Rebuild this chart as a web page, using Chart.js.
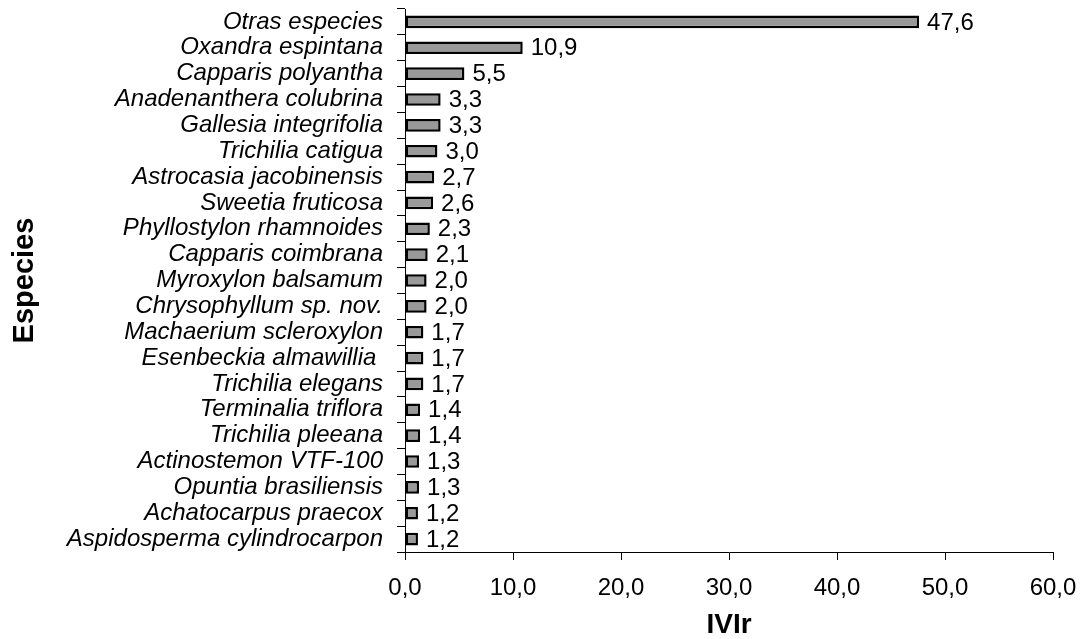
<!DOCTYPE html>
<html>
<head>
<meta charset="utf-8">
<script src="https://cdn.jsdelivr.net/npm/chart.js@4.4.1/dist/chart.umd.min.js"></script>
<style>
  html, body { margin: 0; padding: 0; background: #ffffff; }
  #wrap { width: 1085px; height: 639px; position: relative; }
</style>
</head>
<body>
<div id="wrap"><canvas id="chart"></canvas></div>
<script>
// Species names, ordered from top to bottom
const species = [
  "Otras especies",
  "Oxandra espintana",
  "Capparis polyantha",
  "Anadenanthera colubrina",
  "Gallesia integrifolia",
  "Trichilia catigua",
  "Astrocasia jacobinensis",
  "Sweetia fruticosa",
  "Phyllostylon rhamnoides",
  "Capparis coimbrana",
  "Myroxylon balsamum",
  "Chrysophyllum sp. nov.",
  "Machaerium scleroxylon",
  "Esenbeckia almawillia ",
  "Trichilia elegans",
  "Terminalia triflora",
  "Trichilia pleeana",
  "Actinostemon VTF-100",
  "Opuntia brasiliensis",
  "Achatocarpus praecox",
  "Aspidosperma cylindrocarpon"
];

// Relative importance value (IVIr) for each species
const ivir = [47.6, 10.9, 5.5, 3.3, 3.3, 3.0, 2.7, 2.6, 2.3, 2.1, 2.0, 2.0,
              1.7, 1.7, 1.7, 1.4, 1.4, 1.3, 1.3, 1.2, 1.2];

// Value axis range
const xMin = 0;
const xMax = 60;
const xStep = 10;

const fmt = v => v.toFixed(1).replace('.', ',');
const FONT = "'Liberation Sans', Arial, sans-serif";

// Writes each bar's value just past its end
const valueLabels = {
  id: 'valueLabels',
  afterDatasetsDraw(chart) {
    const ctx = chart.ctx;
    const meta = chart.getDatasetMeta(0);
    ctx.save();
    ctx.font = "24px " + FONT;
    ctx.fillStyle = '#000000';
    ctx.textAlign = 'left';
    ctx.textBaseline = 'middle';
    meta.data.forEach((bar, i) => {
      ctx.fillText(fmt(chart.data.datasets[0].data[i]), bar.x + 8, bar.y + 1);
    });
    ctx.restore();
  }
};

new Chart(document.getElementById('chart'), {
  type: 'bar',
  data: {
    labels: species,
    datasets: [{
      data: ivir,
      backgroundColor: '#999999',
      borderColor: '#000000',
      borderWidth: 2.5,
      borderSkipped: false,
      categoryPercentage: 1.0,
      barPercentage: 0.49
    }]
  },
  options: {
    indexAxis: 'y',
    responsive: true,
    maintainAspectRatio: false,
    animation: false,
    layout: { padding: { left: 0, top: 9, right: 32, bottom: 0 } },
    plugins: {
      legend: { display: false },
      tooltip: { enabled: false }
    },
    scales: {
      x: {
        min: xMin,
        max: xMax,
        afterFit(scale) {
          scale.height = 87;
          scale.paddingLeft = 0;
          scale.paddingRight = 0;
        },
        ticks: {
          stepSize: xStep,
          color: '#000000',
          font: { family: FONT, size: 24 },
          padding: 14,
          callback: v => fmt(v)
        },
        grid: {
          drawOnChartArea: false,
          drawTicks: true,
          tickLength: 8,
          color: '#000000',
          lineWidth: 1
        },
        border: { display: true, color: '#000000', width: 1 },
        title: {
          display: true,
          text: 'IVIr',
          color: '#000000',
          font: { family: FONT, size: 28, weight: 'bold', lineHeight: 1 },
          padding: { top: 0, bottom: 0 }
        }
      },
      y: {
        afterFit(scale) {
          scale.width = 405;
          scale.paddingTop = 0;
          scale.paddingBottom = 0;
        },
        ticks: {
          color: '#000000',
          font: { family: FONT, size: 24, style: 'italic' },
          padding: 14,
          autoSkip: false
        },
        grid: {
          offset: true,
          drawOnChartArea: false,
          drawTicks: true,
          tickLength: 8,
          color: '#000000',
          lineWidth: 1
        },
        border: { display: true, color: '#000000', width: 1 },
        title: {
          display: true,
          text: 'Especies',
          color: '#000000',
          font: { family: FONT, size: 29, weight: 'bold' },
          padding: { top: 8, bottom: 0 }
        }
      }
    }
  },
  plugins: [valueLabels]
});
</script>
</body>
</html>
